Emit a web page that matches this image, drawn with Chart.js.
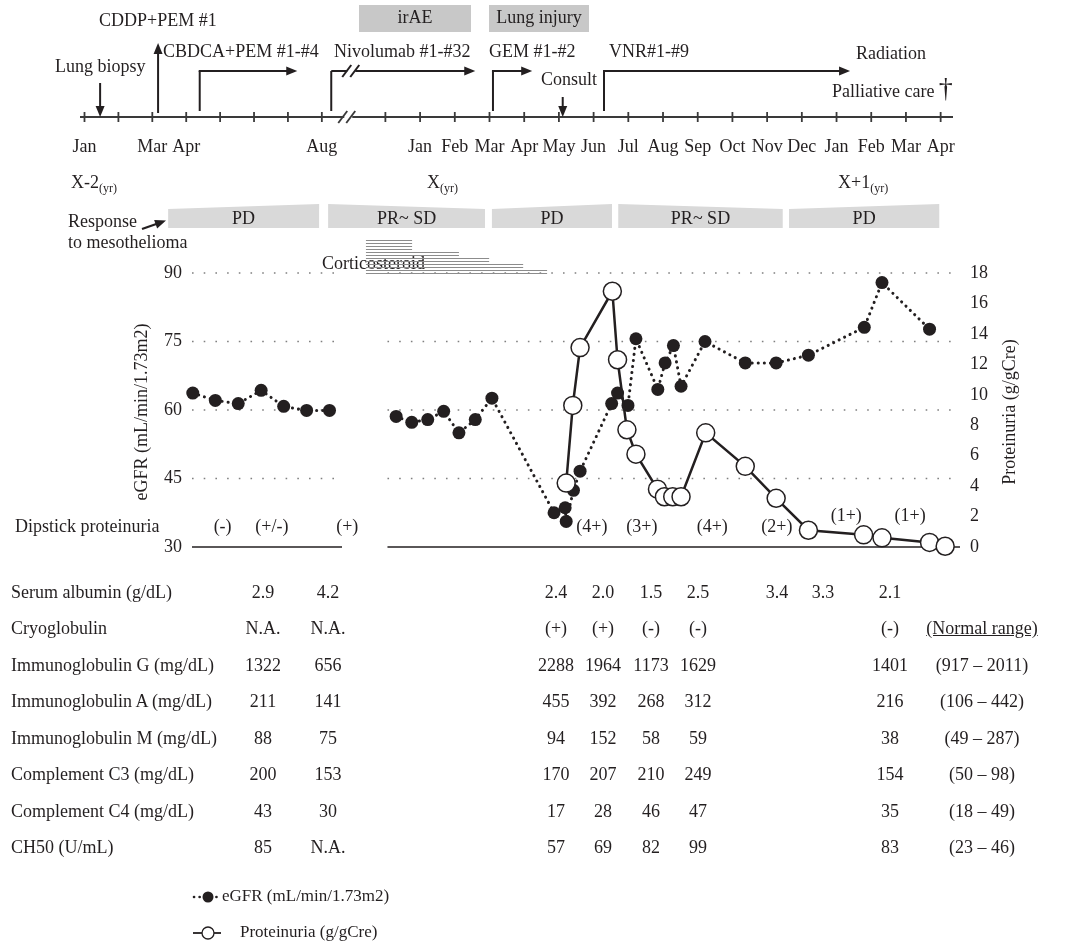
<!DOCTYPE html>
<html>
<head>
<meta charset="utf-8">
<script src="https://cdn.jsdelivr.net/npm/chart.js@4.4.1/dist/chart.umd.min.js"></script>
<style>
  html, body { margin: 0; padding: 0; background: #fff; }
  #wrap { position: relative; width: 1084px; height: 942px; overflow: hidden;
    font-family: "Liberation Serif", "Times New Roman", serif; color: #231f20; }
  #chart { position: absolute; left: 0; top: 0; }
  .t { position: absolute; font-size: 18px; line-height: 20px; white-space: nowrap; }
  .c { transform: translate(-50%, -50%); }
  .l { transform: translateY(-50%); }
  .u { text-decoration: underline; }
</style>
</head>
<body>
<div id="wrap">
  <canvas id="chart" width="1084" height="942"></canvas>
  <div id="table"></div>
</div>
<script>
// x values are months counted from Jan of year X; the part before the axis break is compressed
const egfrMonthPre = [-6.55, -5.90, -5.24, -4.58, -3.93, -3.27, -2.61];
const egfrPre      = [63.7, 62.1, 61.4, 64.3, 60.8, 59.9, 59.9];
const egfrMonth = [-0.69, -0.24, 0.22, 0.68, 1.12, 1.59, 2.07, 3.86, 4.18, 4.21, 4.42, 4.61,
  5.52, 5.69, 5.99, 6.22, 6.85, 7.06, 7.30, 7.52, 8.21, 9.37, 10.26, 11.19, 12.80, 13.31, 14.68];
const egfr = [58.6, 57.3, 57.9, 59.7, 55.0, 57.9, 62.6, 37.5, 38.6, 35.6, 42.4, 46.6,
  61.4, 63.7, 61.0, 75.6, 64.5, 70.3, 74.1, 65.2, 75.0, 70.3, 70.3, 72.0, 78.1, 87.9, 77.7];

const protMonth = [4.21, 4.40, 4.61, 5.54, 5.69, 5.96, 6.22, 6.84, 7.04, 7.28, 7.52, 8.23,
  9.37, 10.26, 11.19, 12.78, 13.31, 14.68, 15.13];
const proteinuria = [4.2, 9.3, 13.1, 16.8, 12.3, 7.7, 6.1, 3.8, 3.3, 3.3, 3.3, 7.5,
  5.3, 3.2, 1.1, 0.8, 0.6, 0.3, 0.05];

const egfrTicks = [30, 45, 60, 75, 90];
const egfrGrid = [45, 60, 75, 90];

// dipstick proteinuria
const dipMonth = [-5.69, -4.27, -2.10, 4.95, 6.39, 8.42, 10.28, 12.28, 14.12];
const dipLabel = ['(-)', '(+/-)', '(+)', '(4+)', '(3+)', '(4+)', '(2+)', '(1+)', '(1+)'];

// timeline
const tlPreLabels  = ['Jan', '', 'Mar', 'Apr', '', '', '', 'Aug'];
const tlPostLabels = ['', 'Jan', 'Feb', 'Mar', 'Apr', 'May', 'Jun', 'Jul', 'Aug', 'Sep',
  'Oct', 'Nov', 'Dec', 'Jan', 'Feb', 'Mar', 'Apr'];

// tumour response periods
const respLabel = ['PD', 'PR~ SD', 'PD', 'PR~ SD', 'PD'];
const respStart = [-7.26, -2.65, 2.07, 5.71, 10.63];
const respEnd   = [-2.91, 1.87, 5.53, 10.45, 14.96];
const respGrow  = [true, false, true, false, true];

// corticosteroid taper (one line per dose step)
const steroidStart = -1.56;
const steroidEnd = [-0.23, -0.23, -0.23, -0.23, 1.12, 1.12, 1.99, 1.99, 2.97, 2.97, 3.66, 3.66];

// laboratory table
const labNames = ['Serum albumin (g/dL)', 'Cryoglobulin', 'Immunoglobulin G (mg/dL)',
  'Immunoglobulin A (mg/dL)', 'Immunoglobulin M (mg/dL)', 'Complement C3 (mg/dL)',
  'Complement C4 (mg/dL)', 'CH50 (U/mL)'];
const albumin = ['2.9', '4.2', '2.4', '2.0', '1.5', '2.5', '3.4', '3.3', '2.1'];
const cryoglobulin = ['N.A.', 'N.A.', '(+)', '(+)', '(-)', '(-)', '', '', '(-)'];
const igG = ['1322', '656', '2288', '1964', '1173', '1629', '', '', '1401'];
const igA = ['211', '141', '455', '392', '268', '312', '', '', '216'];
const igM = ['88', '75', '94', '152', '58', '59', '', '', '38'];
const c3  = ['200', '153', '170', '207', '210', '249', '', '', '154'];
const c4  = ['43', '30', '17', '28', '46', '47', '', '', '35'];
const ch50 = ['85', 'N.A.', '57', '69', '82', '99', '', '', '83'];
const normalRange = ['', '(Normal range)', '(917 – 2011)', '(106 – 442)', '(49 – 287)',
  '(50 – 98)', '(18 – 49)', '(23 – 46)'];

const FONT = '"Liberation Serif", "Times New Roman", serif';
const INK = '#231f20';
const X_MIN = -6.63, X_MAX = 15.5;
const PLOT_BREAK = [-2.25, -0.94];
const TL_BREAK = -2.07;

const toPoints = (xs, ys) => xs.map((x, i) => ({ x, y: ys[i] }));

function seg(ctx, x1, y1, x2, y2) {
  ctx.beginPath();
  ctx.moveTo(x1, y1);
  ctx.lineTo(x2, y2);
  ctx.stroke();
}

function arrow(ctx, x1, y1, x2, y2) {
  const ang = Math.atan2(y2 - y1, x2 - x1);
  const len = 11, hw = 4.5;
  seg(ctx, x1, y1, x2 - Math.cos(ang) * len * 0.8, y2 - Math.sin(ang) * len * 0.8);
  ctx.beginPath();
  ctx.moveTo(x2, y2);
  ctx.lineTo(x2 - Math.cos(ang) * len - Math.sin(ang) * hw, y2 - Math.sin(ang) * len + Math.cos(ang) * hw);
  ctx.lineTo(x2 - Math.cos(ang) * len + Math.sin(ang) * hw, y2 - Math.sin(ang) * len - Math.cos(ang) * hw);
  ctx.closePath();
  ctx.fill();
}

function slashes(ctx, cx, cy) {
  seg(ctx, cx - 10, cy + 6, cx - 1, cy - 6);
  seg(ctx, cx - 2, cy + 6, cx + 7, cy - 6);
}

function text(ctx, s, x, y, align = 'left', size = 18) {
  ctx.font = `${size}px ${FONT}`;
  ctx.textAlign = align;
  ctx.textBaseline = 'middle';
  ctx.fillText(s, x, y);
}

function yearLabel(ctx, main, x, y) {
  text(ctx, main, x, y);
  ctx.font = `18px ${FONT}`;
  const w = ctx.measureText(main).width;
  text(ctx, '(yr)', x + w, y + 6, 'left', 12);
}

const decor = {
  id: 'decor',
  beforeDatasetsDraw(chart) {
    const { ctx, chartArea: a, scales: { x, y } } = chart;
    const bx0 = x.getPixelForValue(PLOT_BREAK[0]);
    const bx1 = x.getPixelForValue(PLOT_BREAK[1]);
    ctx.save();
    // dotted grid with a gap at the axis break
    ctx.strokeStyle = '#808080';
    ctx.lineWidth = 1.6;
    ctx.setLineDash([1.6, 10.1]);
    egfrGrid.forEach(v => {
      const py = y.getPixelForValue(v);
      seg(ctx, a.left + 2, py, bx0, py);
      seg(ctx, bx1, py, a.right - 4, py);
    });
    ctx.setLineDash([]);
    ctx.strokeStyle = INK;
    ctx.lineWidth = 1.6;
    const by = y.getPixelForValue(30);
    seg(ctx, a.left + 2, by, bx0, by);
    seg(ctx, bx1, by, a.right + 2, by);

    // corticosteroid
    ctx.fillStyle = INK;
    text(ctx, 'Corticosteroid', 322, 264);
    ctx.strokeStyle = '#8c8c8c';
    ctx.lineWidth = 1;
    const sx = x.getPixelForValue(steroidStart);
    steroidEnd.forEach((e, i) => {
      const py = 240.5 + i * 3;
      seg(ctx, sx, py, x.getPixelForValue(e), py);
    });
    ctx.restore();
  },
  afterDraw(chart) {
    const { ctx, scales: { x } } = chart;
    const tx = m => x.getPixelForValue(m);
    ctx.save();
    ctx.fillStyle = INK;
    ctx.strokeStyle = INK;

    // ---- timeline ----
    const TY = 117;
    ctx.strokeStyle = '#3a3a3a';
    ctx.lineWidth = 1.8;
    const brk = tx(TL_BREAK);
    seg(ctx, 80, TY, brk - 4, TY);
    seg(ctx, brk + 4, TY, 953, TY);
    slashes(ctx, brk, TY);
    tlPreLabels.forEach((lab, k) => {
      const px = tx(-9.67 + k * 0.977);
      seg(ctx, px, TY - 5, px, TY + 5);
      if (lab) text(ctx, lab, px, 147, 'center');
    });
    tlPostLabels.forEach((lab, k) => {
      const px = tx(k - 1);
      seg(ctx, px, TY - 5, px, TY + 5);
      if (lab) text(ctx, lab, px, 147, 'center');
    });
    yearLabel(ctx, 'X-2', 71, 183);
    yearLabel(ctx, 'X', 427, 183);
    yearLabel(ctx, 'X+1', 838, 183);

    ctx.strokeStyle = INK;
    ctx.lineWidth = 2;
    // events
    text(ctx, 'Lung biopsy', 55, 67);
    arrow(ctx, tx(-9.22), 83, tx(-9.22), TY);
    text(ctx, 'CDDP+PEM #1', 99, 21);
    arrow(ctx, tx(-7.55), 113, tx(-7.55), 43);
    text(ctx, 'CBDCA+PEM #1-#4', 163, 52);
    const elbow = (m0, m1, brkAt) => {
      const x0 = tx(m0), x1 = tx(m1);
      seg(ctx, x0, 111, x0, 71);
      if (brkAt !== undefined) {
        const bx = tx(brkAt) + 4;
        seg(ctx, x0, 71, bx - 5, 71);
        arrow(ctx, bx + 3, 71, x1, 71);
        slashes(ctx, bx, 71);
      } else {
        arrow(ctx, x0 - 1, 71, x1, 71);
      }
    };
    elbow(-6.35, -3.54);
    text(ctx, 'Nivolumab #1-#32', 334, 52);
    elbow(-2.56, 1.59, TL_BREAK);
    text(ctx, 'GEM #1-#2', 489, 52);
    elbow(2.10, 3.23);
    text(ctx, 'Consult', 541, 80);
    arrow(ctx, tx(4.11), 97, tx(4.11), TY);
    text(ctx, 'VNR#1-#9', 609, 52);
    elbow(5.30, 12.39);
    text(ctx, 'Radiation', 856, 54);
    text(ctx, 'Palliative care', 832, 92);
    text(ctx, '†', tx(15.15), 90, 'center', 28);

    // irAE / lung injury boxes
    ctx.fillStyle = '#c8c8c8';
    ctx.fillRect(359, 5, 112, 27);
    ctx.fillRect(489, 5, 100, 27);
    ctx.fillStyle = INK;
    text(ctx, 'irAE', 415, 18.5, 'center');
    text(ctx, 'Lung injury', 539, 18.5, 'center');

    // response bars
    respLabel.forEach((lab, i) => {
      const x0 = tx(respStart[i]), x1 = tx(respEnd[i]);
      const yl = respGrow[i] ? 209 : 204, yr = respGrow[i] ? 204 : 209;
      ctx.fillStyle = '#d9d9d9';
      ctx.beginPath();
      ctx.moveTo(x0, yl); ctx.lineTo(x1, yr); ctx.lineTo(x1, 228); ctx.lineTo(x0, 228);
      ctx.closePath();
      ctx.fill();
      ctx.fillStyle = INK;
      text(ctx, lab, (x0 + x1) / 2, 219, 'center');
    });
    text(ctx, 'Response', 68, 222);
    text(ctx, 'to mesothelioma', 68, 243);
    ctx.lineWidth = 2.2;
    arrow(ctx, 142, 229, 166, 220.5);

    // dipstick proteinuria
    text(ctx, 'Dipstick proteinuria', 15, 527);
    dipLabel.forEach((lab, i) => {
      const raised = lab === '(1+)';
      text(ctx, lab, tx(dipMonth[i]), raised ? 516 : 527, 'center');
    });

    // axis titles
    const vtitle = (s, cx, cy) => {
      ctx.save();
      ctx.translate(cx, cy);
      ctx.rotate(-Math.PI / 2);
      text(ctx, s, 0, 0, 'center');
      ctx.restore();
    };
    vtitle('eGFR (mL/min/1.73m2)', 142, 412);
    vtitle('Proteinuria (g/gCre)', 1010, 412);

    // legend
    const [dsE, dsP] = chart.data.datasets;
    const LY1 = 897, LY2 = 933;
    ctx.lineWidth = 2.6;
    ctx.lineCap = 'round';
    ctx.setLineDash([0.1, 5.5]);
    seg(ctx, 194, LY1, 221, LY1);
    ctx.setLineDash([]);
    ctx.lineCap = 'butt';
    ctx.beginPath(); ctx.arc(208, LY1, 5.5, 0, Math.PI * 2); ctx.fill();
    text(ctx, dsE.label, 222, LY1, 'left', 17);
    ctx.lineWidth = 1.8;
    seg(ctx, 193, LY2, 221, LY2);
    ctx.fillStyle = '#fff';
    ctx.lineWidth = 1.3;
    ctx.beginPath(); ctx.arc(208, LY2, 6, 0, Math.PI * 2); ctx.fill(); ctx.stroke();
    ctx.fillStyle = INK;
    text(ctx, dsP.label, 240, LY2, 'left', 17);
    ctx.restore();
  }
};

const egfrData = toPoints(egfrMonthPre, egfrPre)
  .concat([{ x: (PLOT_BREAK[0] + PLOT_BREAK[1]) / 2, y: null }])
  .concat(toPoints(egfrMonth, egfr));

new Chart(document.getElementById('chart').getContext('2d'), {
  type: 'line',
  data: {
    datasets: [
      {
        label: 'eGFR (mL/min/1.73m2)',
        data: egfrData,
        yAxisID: 'y',
        clip: 14,
        borderColor: INK,
        borderWidth: 3,
        borderDash: [0.1, 6],
        borderCapStyle: 'round',
        pointRadius: 6.5,
        pointBackgroundColor: INK,
        pointBorderColor: INK,
        pointBorderWidth: 0,
        tension: 0,
        order: 1,
      },
      {
        label: 'Proteinuria (g/gCre)',
        data: toPoints(protMonth, proteinuria),
        yAxisID: 'y2',
        clip: 14,
        borderColor: INK,
        borderWidth: 2.5,
        pointRadius: 9,
        pointBackgroundColor: '#fff',
        pointBorderColor: INK,
        pointBorderWidth: 1.5,
        tension: 0,
        order: 0,
      },
    ],
  },
  options: {
    responsive: false,
    animation: false,
    layout: { padding: { left: 130, right: 66, top: 273, bottom: 395 } },
    plugins: { legend: { display: false }, tooltip: { enabled: false } },
    scales: {
      x: { type: 'linear', min: X_MIN, max: X_MAX, display: false },
      y: {
        position: 'left', min: 30, max: 90,
        afterFit: s => { s.width = 60; },
        afterBuildTicks: s => { s.ticks = egfrTicks.map(v => ({ value: v })); },
        grid: { display: false, drawTicks: false },
        border: { display: false },
        ticks: { color: INK, padding: 8, font: { family: FONT, size: 18 } },
      },
      y2: {
        position: 'right', min: 0, max: 18,
        afterFit: s => { s.width = 60; },
        grid: { display: false, drawTicks: false },
        border: { display: false },
        ticks: { stepSize: 2, color: INK, padding: 12, font: { family: FONT, size: 18 } },
      },
    },
  },
  plugins: [decor],
});

// laboratory table as page text
const COL_X = [263, 328, 556, 603, 651, 698, 777, 823, 890];
const RANGE_X = 982;
const ROW_Y0 = 591.7, ROW_DY = 36.5;
const labRows = [albumin, cryoglobulin, igG, igA, igM, c3, c4, ch50];
const tableEl = document.getElementById('table');
function addText(s, x, y, cls) {
  const d = document.createElement('div');
  d.className = 't ' + cls;
  d.style.left = x + 'px';
  d.style.top = y + 'px';
  d.textContent = s;
  tableEl.appendChild(d);
}
labNames.forEach((name, r) => {
  const yy = ROW_Y0 + r * ROW_DY;
  addText(name, 11, yy, 'l');
  labRows[r].forEach((v, c) => { if (v) addText(v, COL_X[c], yy, 'c'); });
  if (normalRange[r]) addText(normalRange[r], RANGE_X, yy, r === 1 ? 'c u' : 'c');
});
</script>
</body>
</html>
